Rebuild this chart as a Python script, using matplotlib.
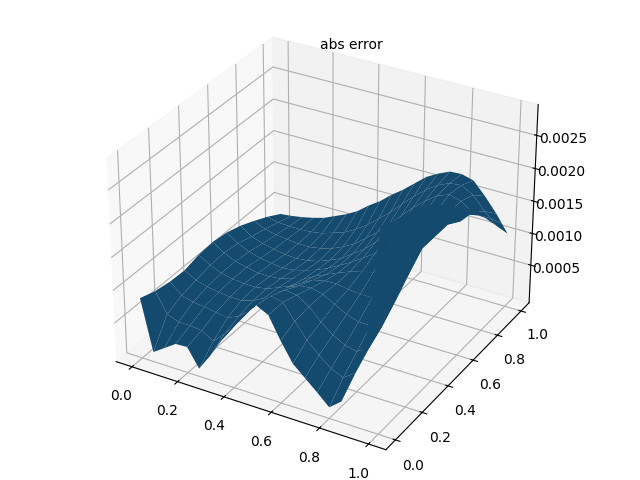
import numpy as np
import matplotlib
matplotlib.use("Agg")
import matplotlib.pyplot as plt

x_vals = [0.0, 0.05, 0.1, 0.15, 0.2, 0.25, 0.3, 0.35, 0.4, 0.45, 0.5,
          0.55, 0.6, 0.65, 0.7, 0.75, 0.8, 0.85, 0.9, 0.95, 0.975, 1.0]
y_vals = [0.0, 0.1, 0.2, 0.3, 0.4, 0.5, 0.6, 0.7, 0.8, 0.9, 1.0]

# abs error, in units of 1e-3, one row per y value
err_y00 = [0.83, 0.05, 0.17, 0.29, 0.30, 0.02, 0.28, 0.57, 0.85, 1.08, 1.27, 1.18, 0.85, 0.56, 0.40, 0.24, 0.07, 0.22, 0.68, 1.35, 2.10, 2.95]
err_y01 = [0.75, 0.45, 0.38, 0.38, 0.36, 0.25, 0.42, 0.62, 0.88, 1.08, 1.22, 1.18, 0.95, 0.72, 0.55, 0.40, 0.32, 0.45, 0.85, 1.55, 2.20, 2.85]
err_y02 = [0.71, 0.55, 0.50, 0.48, 0.45, 0.42, 0.50, 0.65, 0.85, 1.02, 1.12, 1.10, 0.98, 0.80, 0.66, 0.56, 0.52, 0.65, 1.00, 1.70, 2.25, 2.78]
err_y03 = [0.70, 0.60, 0.55, 0.52, 0.50, 0.50, 0.55, 0.65, 0.78, 0.92, 1.00, 1.02, 0.98, 0.88, 0.78, 0.72, 0.72, 0.85, 1.20, 1.80, 2.25, 2.70]
err_y04 = [0.76, 0.65, 0.58, 0.54, 0.52, 0.52, 0.55, 0.62, 0.70, 0.80, 0.90, 0.94, 0.95, 0.92, 0.90, 0.90, 0.98, 1.15, 1.42, 1.85, 2.20, 2.55]
err_y05 = [0.78, 0.66, 0.58, 0.54, 0.50, 0.50, 0.52, 0.57, 0.62, 0.72, 0.80, 0.88, 0.95, 1.00, 1.05, 1.12, 1.25, 1.42, 1.62, 1.85, 2.10, 2.35]
err_y06 = [0.75, 0.63, 0.55, 0.50, 0.47, 0.45, 0.47, 0.52, 0.58, 0.66, 0.76, 0.86, 0.98, 1.10, 1.22, 1.35, 1.50, 1.62, 1.72, 1.85, 2.00, 2.15]
err_y07 = [0.68, 0.56, 0.50, 0.46, 0.43, 0.42, 0.44, 0.48, 0.55, 0.63, 0.76, 0.88, 1.05, 1.20, 1.38, 1.52, 1.68, 1.76, 1.78, 1.72, 1.85, 1.95]
err_y08 = [0.58, 0.50, 0.46, 0.44, 0.42, 0.42, 0.45, 0.50, 0.58, 0.68, 0.82, 0.97, 1.15, 1.32, 1.50, 1.65, 1.78, 1.85, 1.80, 1.68, 1.66, 1.65]
err_y09 = [0.47, 0.43, 0.42, 0.42, 0.43, 0.46, 0.52, 0.58, 0.68, 0.80, 0.95, 1.10, 1.28, 1.45, 1.60, 1.72, 1.80, 1.82, 1.72, 1.52, 1.44, 1.35]
err_y10 = [0.34, 0.36, 0.39, 0.43, 0.48, 0.56, 0.64, 0.74, 0.88, 1.00, 1.15, 1.28, 1.43, 1.58, 1.68, 1.76, 1.77, 1.72, 1.53, 1.31, 1.18, 1.05]

err = np.array([err_y00, err_y01, err_y02, err_y03, err_y04, err_y05,
                err_y06, err_y07, err_y08, err_y09, err_y10]) * 1e-3
X, Y = np.meshgrid(x_vals, y_vals)

fig = plt.figure(figsize=(6.4, 4.8), dpi=100)
ax = fig.add_subplot(projection='3d')
ax.plot_surface(X, Y, err, rstride=1, cstride=1, color='#144a6e', shade=False,
                linewidth=0, antialiased=True)
ax.set_xlim(-0.07, 1.07)
ax.set_ylim(-0.07, 1.07)
ax.set_zlim(-0.0001, 0.00296)
ax.set_zticks([0.0005, 0.0010, 0.0015, 0.0020, 0.0025])
ax.set_title('abs error', fontsize=10, x=0.565, y=0.958)
ax.set_position([0, 0, 1, 1])

fig.savefig('out.png', dpi=100)
